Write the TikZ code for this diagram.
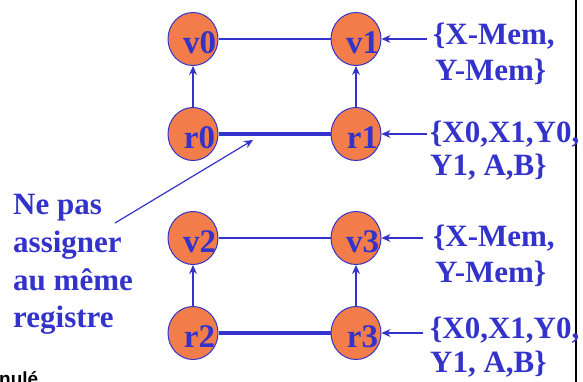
\documentclass[tikz,border=0pt]{standalone}
\usepackage{fontspec}
\setmainfont{Liberation Serif}
\newfontfamily\mysans{Liberation Sans}
\usetikzlibrary{arrows.meta,shapes.geometric}
\definecolor{myblue}{RGB}{51,51,204}
\definecolor{myorange}{RGB}{243,125,74}
\newcommand{\vlab}[1]{\makebox[0pt]{\hspace*{13pt}#1}}
\begin{document}
\begin{tikzpicture}[x=1pt,y=-1pt,
  vnode/.style={ellipse,draw=myblue,line width=1pt,fill=myorange,minimum width=50pt,minimum height=53pt,inner sep=0pt,text=myblue,font=\fontsize{33}{33}\selectfont\bfseries,text height=29pt,text depth=0pt},
  lab/.style={anchor=base west,inner sep=0pt,text=myblue,font=\fontsize{31}{36}\selectfont\bfseries},
  wline/.style={draw=myblue,line width=1.2pt},
  arr/.style={wline,-{Stealth[length=9pt,width=8pt,inset=3pt]}},
  bline/.style={draw=myblue,line width=4pt}]
\useasboundingbox (0,0) rectangle (583,381);
\coordinate (ft) at (576,-5);
\coordinate (fb) at (576,390);
\draw[black,line width=2pt] (ft) -- (fb);
% nodes
\node[vnode] (v0) at (193,39) {\vlab{v0}};
\node[vnode] (v1) at (356,39) {\vlab{v1}};
\node[vnode] (r0) at (193,134) {\vlab{r0}};
\node[vnode] (r1) at (356,134) {\vlab{r1}};
\node[vnode] (v2) at (193,238) {\vlab{v2}};
\node[vnode] (v3) at (356,238) {\vlab{v3}};
\node[vnode] (r2) at (193,333) {\vlab{r2}};
\node[vnode] (r3) at (356,333) {\vlab{r3}};
% edges
\draw[wline] (v0) -- (v1);
\draw[wline] (v2) -- (v3);
\draw[arr] (r0) -- (v0);
\draw[arr] (r1) -- (v1);
\draw[arr] (r2) -- (v2);
\draw[arr] (r3) -- (v3);
\draw[bline] (r0) -- (r1);
\draw[bline] (r2) -- (r3);
% right labels
\node[lab] (t1a) at (433,44) {\{X-Mem,};
\node[lab] (t1b) at (435,80) {Y-Mem\}};
\node[lab] (t2a) at (430,142) {\{X0,X1,Y0,};
\node[lab] (t2b) at (430,175) {Y1, A,B\}};
\node[lab] (t3a) at (433,246) {\{X-Mem,};
\node[lab] (t3b) at (435,282) {Y-Mem\}};
\node[lab] (t4a) at (430,338) {\{X0,X1,Y0,};
\node[lab] (t4b) at (430,372) {Y1, A,B\}};
\coordinate (a1) at (427,39);
\coordinate (a2) at (427,134);
\coordinate (a3) at (423,238);
\coordinate (a4) at (423,333);
\draw[arr] (a1) -- (v1);
\draw[arr] (a2) -- (r1);
\draw[arr] (a3) -- (v3);
\draw[arr] (a4) -- (r3);
% left note
\node[lab] (n1) at (13,214) {Ne pas};
\node[lab] (n2) at (13,252) {assigner};
\node[lab] (n3) at (13,290) {au même};
\node[lab] (n4) at (13,327) {registre};
\coordinate (ps) at (115,223);
\coordinate (pe) at (253,140);
\draw[arr] (ps) -- (pe);
% cut-off text
\node[anchor=base west,inner sep=0pt,font=\mysans\bfseries\fontsize{19}{19}\selectfont] (nu) at (-1,385) {nulé};
\end{tikzpicture}
\end{document}
